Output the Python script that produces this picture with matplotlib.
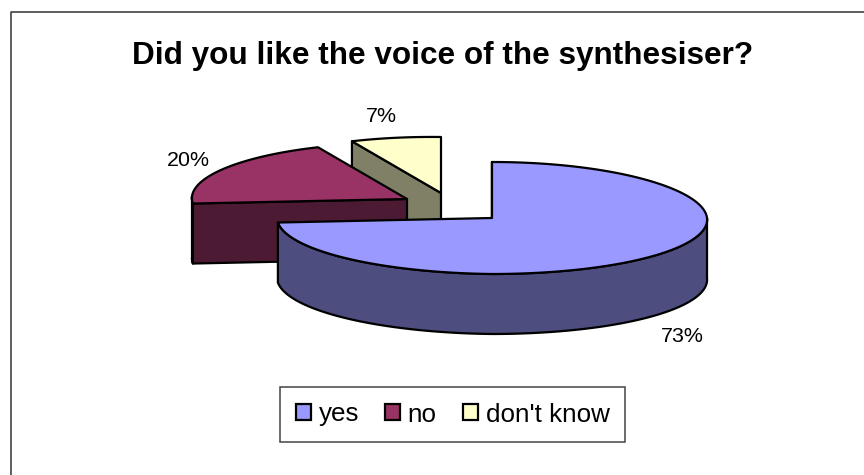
import numpy as np
import matplotlib
matplotlib.use('Agg')
import matplotlib.pyplot as plt
from matplotlib.patches import Polygon, Patch

plt.rcParams['font.family'] = ['Liberation Sans', 'DejaVu Sans']

labels = ['yes', 'no', "don't know"]
values = [73, 20, 7]
top_colors = ['#9999FF', '#993366', '#FFFFCC']
side_colors = ['#4D4D80', '#4D1A33', '#808066']

# exploded slice apexes, disc radii and thickness, in pixels
apexes = [(492, 218), (407, 199), (441, 193)]
rx, ry = 215, 56
depth = 60
label_pos = [(682, 336), (188, 161), (381, 117)]


def rim(cx, cy, a0, a1, dy=0):
    # angles are clockwise from 12 o'clock
    t = np.radians(np.linspace(a0, a1, max(int(abs(a1 - a0)) * 2, 2)))
    # slight perspective: back narrower, left side of the disc a little higher
    x = cx + rx * np.sin(t) * (1 - 0.03 * np.cos(t))
    y = cy - ry * np.cos(t) - 2.5 * np.maximum(0, -np.sin(t)) + dy
    return np.column_stack([x, y])


fig = plt.figure(figsize=(8.64, 4.75), dpi=100)
ax = fig.add_axes([0, 0, 1, 1])
ax.set_xlim(0, 864)
ax.set_ylim(475, 0)
ax.axis('off')

# chart area border, only top and left fall inside the figure
ax.plot([10.5, 10.5, 864], [475, 12, 12], color='#333333', lw=1.1)

edges = np.cumsum([0] + values) / sum(values) * 360

# back slice first so nearer ones paint over it
for i in [2, 1, 0]:
    cx, cy = apexes[i]
    a0, a1 = edges[i], edges[i + 1]
    kw = dict(edgecolor='black', lw=1.6, joinstyle='round')

    # cut face at the start angle
    p = rim(cx, cy, a0, a0)[0]
    face = [(cx, cy), p, (p[0], p[1] + depth), (cx, cy + depth)]
    ax.add_patch(Polygon(face, closed=True, facecolor=side_colors[i], **kw))

    # outer wall, only the part on the near side of the disc
    w0, w1 = max(a0, 90), min(a1, 270)
    if w1 > w0:
        upper = rim(cx, cy, w0, w1)
        lower = rim(cx, cy, w0, w1, depth)
        ax.add_patch(Polygon(np.vstack([upper, lower[::-1]]), closed=True,
                             facecolor=side_colors[i], **kw))

    top = np.vstack([[(cx, cy)], rim(cx, cy, a0, a1)])
    ax.add_patch(Polygon(top, closed=True, facecolor=top_colors[i], **kw))

for v, (x, y) in zip(values, label_pos):
    ax.text(x, y, f'{v}%', ha='center', va='center', fontsize=15.4, color='black')

ax.text(442.5, 56, 'Did you like the voice of the synthesiser?', ha='center', va='center',
        fontsize=22.7, fontweight='bold', color='black')

handles = [Patch(facecolor=c, edgecolor='black', lw=1.6) for c in top_colors]
leg = ax.legend(handles, labels, ncol=3, loc='center', bbox_to_anchor=(452.5, 414.5),
                bbox_transform=ax.transData, fontsize=18.7, fancybox=False, framealpha=1,
                edgecolor='#444444', handlelength=0.58, handleheight=0.58, handletextpad=0.3,
                columnspacing=1.0, borderpad=0.58, borderaxespad=0)
leg.get_frame().set_linewidth(1.1)

fig.savefig('out.png', dpi=100)
